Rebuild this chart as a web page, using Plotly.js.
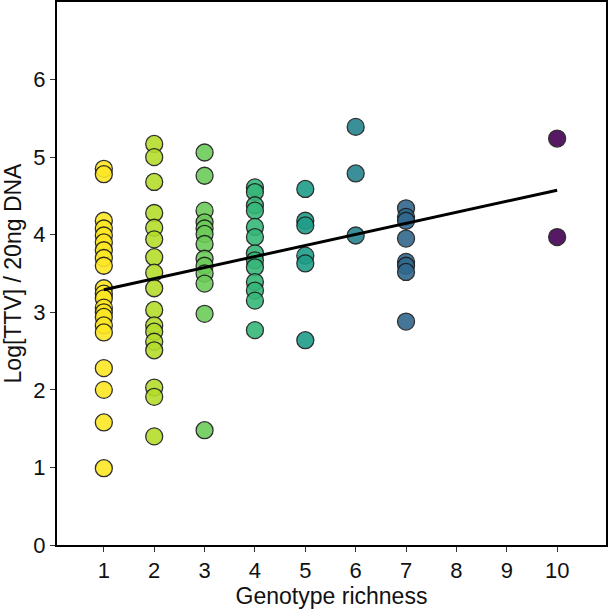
<!DOCTYPE html>
<html>
<head>
<meta charset="utf-8">
<script src="https://cdn.plot.ly/plotly-3.0.1.min.js"></script>
<style>html,body{margin:0;padding:0;background:#fff}#chart{width:609px;height:609px}</style>
</head>
<body>
<div id="chart"></div>
<script>
// Genotype richness per sample (x) and Log[TTV] / 20ng DNA (y)
const richness1 = [1,1,1,1,1,1,1,1,1,1,1,1,1,1,1,1,1,1,1,1,1];
const ttv1 = [4.85,4.78,4.18,4.08,3.99,3.90,3.80,3.70,3.60,3.31,3.24,3.18,3.06,3.00,2.94,2.83,2.74,2.28,2.00,1.58,0.99];
const richness2 = [2,2,2,2,2,2,2,2,2,2,2,2,2,2,2,2,2];
const ttv2 = [5.17,5.00,4.68,4.28,4.09,3.94,3.71,3.51,3.31,3.03,2.83,2.75,2.62,2.51,2.03,1.91,1.40];
const richness3 = [3,3,3,3,3,3,3,3,3,3,3,3,3];
const ttv3 = [5.06,4.76,4.31,4.16,4.08,4.01,3.88,3.69,3.60,3.50,3.37,2.98,1.48];
const richness4 = [4,4,4,4,4,4,4,4,4,4,4,4,4];
const ttv4 = [4.61,4.55,4.38,4.31,4.10,3.97,3.76,3.67,3.58,3.39,3.28,3.15,2.77];
const richness5 = [5,5,5,5,5,5];
const ttv5 = [4.59,4.18,4.12,3.73,3.63,2.64];
const richness6 = [6,6,6];
const ttv6 = [5.39,4.79,3.99];
const richness7 = [7,7,7,7,7,7,7,7];
const ttv7 = [4.34,4.23,4.18,3.95,3.65,3.60,3.52,2.88];
const richness10 = [10,10];
const ttv10 = [5.24,3.97];

const xTicks = [1,2,3,4,5,6,7,8,9,10];
const yTicks = [0,1,2,3,4,5,6];

const xs = [].concat(richness1,richness2,richness3,richness4,richness5,richness6,richness7,richness10);
const ys = [].concat(ttv1,ttv2,ttv3,ttv4,ttv5,ttv6,ttv7,ttv10);

// least-squares fit
const n = xs.length;
const mx = xs.reduce((a,b)=>a+b,0)/n, my = ys.reduce((a,b)=>a+b,0)/n;
let sxy=0, sxx=0;
for (let i=0;i<n;i++){ sxy+=(xs[i]-mx)*(ys[i]-my); sxx+=(xs[i]-mx)**2; }
const slope = sxy/sxx, intercept = my - slope*mx;
const fitX = [Math.min(...xs), Math.max(...xs)];
const fitY = fitX.map(v => intercept + slope*v);

const family = 'Liberation Sans, Arial, Helvetica, sans-serif';
const tickFont = {family: family, size: 22, color: '#111'};
const titleFont = {family: family, size: 23, color: '#111'};

const traces = [
  {
    x: xs, y: ys, type: 'scatter', mode: 'markers',
    marker: {
      size: 17, color: xs, colorscale: 'Viridis', reversescale: true, cmin: 1, cmax: 10,
      opacity: 0.9, line: {color: '#1a1a1a', width: 1.3}
    },
    hoverinfo: 'x+y', showlegend: false
  },
  {
    x: fitX, y: fitY, type: 'scatter', mode: 'lines',
    line: {color: '#000', width: 3}, showlegend: false
  }
];

const layout = {
  width: 609, height: 609,
  margin: {l: 57, r: 3, t: 2, b: 64},
  paper_bgcolor: '#fff', plot_bgcolor: '#fff',
  font: tickFont,
  xaxis: {
    range: [0.07, 10.97], tickvals: xTicks, ticktext: xTicks.map(String),
    showgrid: false, zeroline: false, showline: true, linecolor: '#000', linewidth: 2, mirror: true,
    ticks: 'outside', ticklen: 5, tickwidth: 1, tickcolor: '#333',
    tickfont: tickFont,
    title: {text: 'Genotype richness', font: titleFont, standoff: 3}
  },
  yaxis: {
    range: [0, 7], tickvals: yTicks, ticktext: yTicks.map(String),
    showgrid: false, zeroline: false, showline: true, linecolor: '#000', linewidth: 2, mirror: true,
    ticks: 'outside', ticklen: 5, tickwidth: 1, tickcolor: '#333',
    tickfont: tickFont,
    title: {text: 'Log[TTV] / 20ng DNA', font: titleFont, standoff: 5}
  }
};

Plotly.newPlot('chart', traces, layout, {displayModeBar: false, staticPlot: true});
</script>
</body>
</html>
